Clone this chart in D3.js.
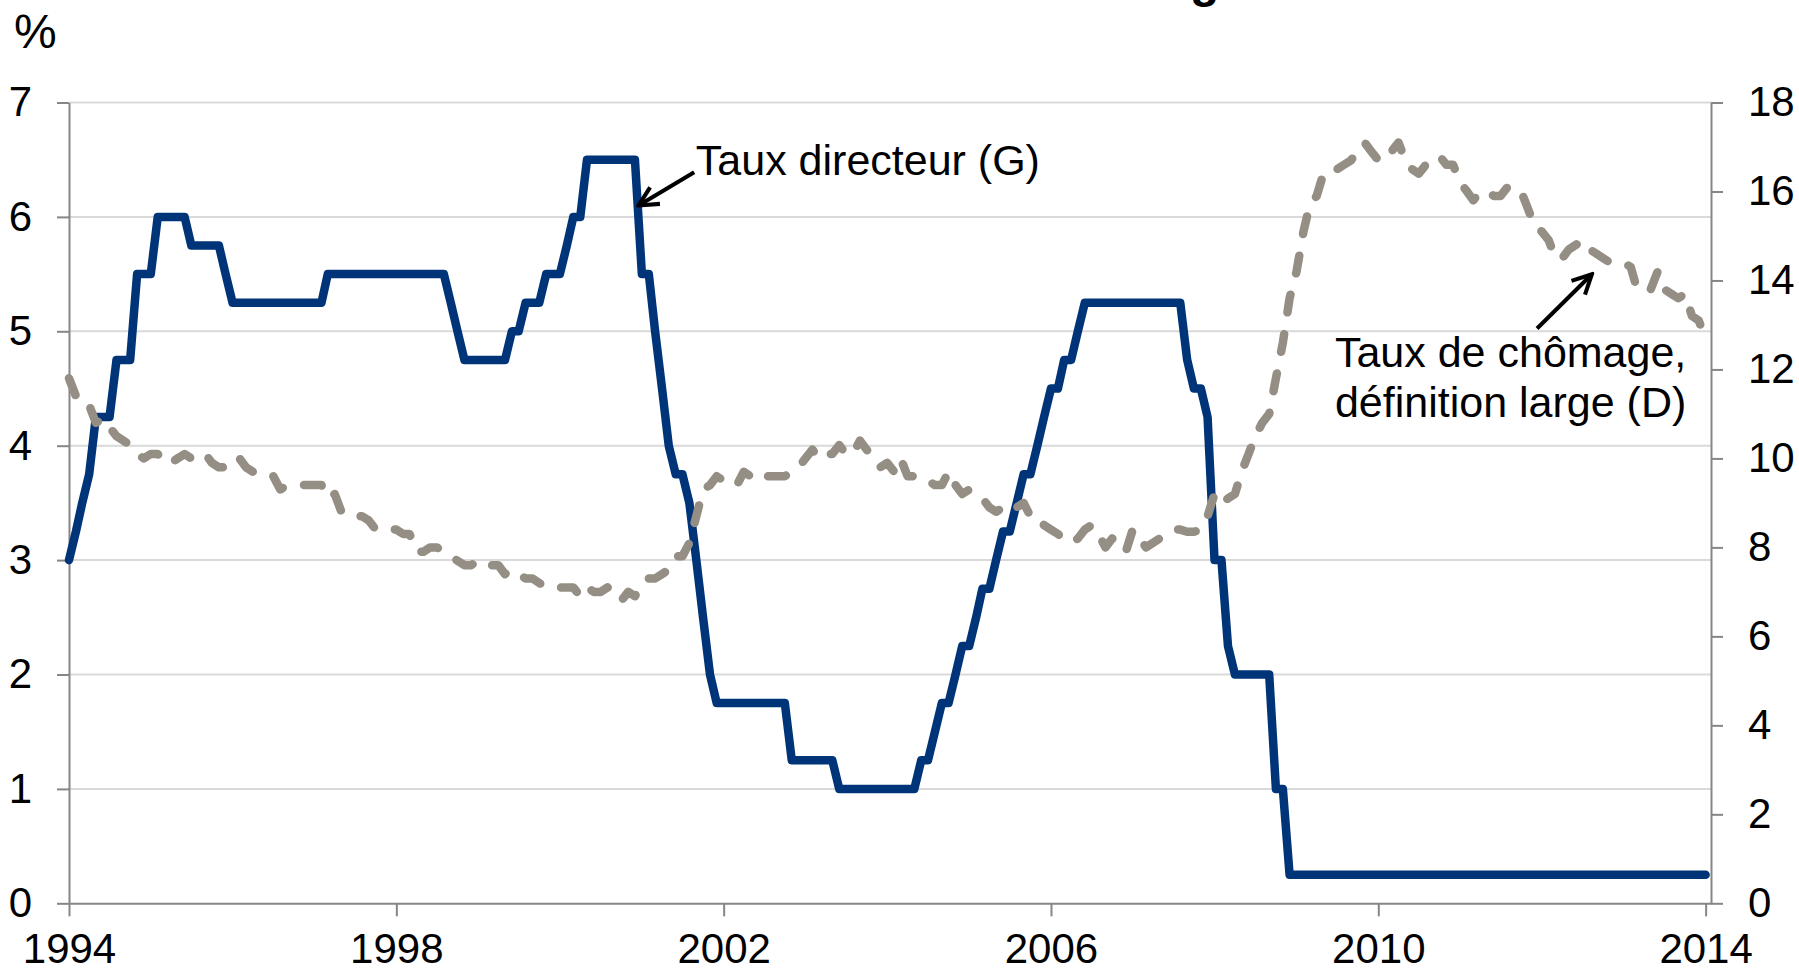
<!DOCTYPE html>
<html>
<head>
<meta charset="utf-8">
<script src="https://cdn.jsdelivr.net/npm/d3@7"></script>
<style>
  body { margin: 0; background: #fff; }
  text { font-family: "Liberation Sans", Arial, sans-serif; fill: #000; }
</style>
</head>
<body>
<div id="wrapper"></div>
<script>
// Monthly data, January 1994 to January 2014 (one value per month).
const startYear = 1994
// Policy rate, % (left axis)
const tauxDirecteur = [
  3.0, 3.25, 3.5, 3.75, 4.25, 4.25, 4.25, 4.75, 4.75, 4.75, 5.5, 5.5,          // 1994
  5.5, 6.0, 6.0, 6.0, 6.0, 6.0, 5.75, 5.75, 5.75, 5.75, 5.75, 5.5,             // 1995
  5.25, 5.25, 5.25, 5.25, 5.25, 5.25, 5.25, 5.25, 5.25, 5.25, 5.25, 5.25,      // 1996
  5.25, 5.25, 5.5, 5.5, 5.5, 5.5, 5.5, 5.5, 5.5, 5.5, 5.5, 5.5,                // 1997
  5.5, 5.5, 5.5, 5.5, 5.5, 5.5, 5.5, 5.5, 5.25, 5.0, 4.75, 4.75,               // 1998
  4.75, 4.75, 4.75, 4.75, 4.75, 5.0, 5.0, 5.25, 5.25, 5.25, 5.5, 5.5,          // 1999
  5.5, 5.75, 6.0, 6.0, 6.5, 6.5, 6.5, 6.5, 6.5, 6.5, 6.5, 6.5,                 // 2000
  5.5, 5.5, 5.0, 4.5, 4.0, 3.75, 3.75, 3.5, 3.0, 2.5, 2.0, 1.75,               // 2001
  1.75, 1.75, 1.75, 1.75, 1.75, 1.75, 1.75, 1.75, 1.75, 1.75, 1.25, 1.25,      // 2002
  1.25, 1.25, 1.25, 1.25, 1.25, 1.0, 1.0, 1.0, 1.0, 1.0, 1.0, 1.0,             // 2003
  1.0, 1.0, 1.0, 1.0, 1.0, 1.25, 1.25, 1.5, 1.75, 1.75, 2.0, 2.25,             // 2004
  2.25, 2.5, 2.75, 2.75, 3.0, 3.25, 3.25, 3.5, 3.75, 3.75, 4.0, 4.25,          // 2005
  4.5, 4.5, 4.75, 4.75, 5.0, 5.25, 5.25, 5.25, 5.25, 5.25, 5.25, 5.25,         // 2006
  5.25, 5.25, 5.25, 5.25, 5.25, 5.25, 5.25, 5.25, 4.75, 4.5, 4.5, 4.25,        // 2007
  3.0, 3.0, 2.25, 2.0, 2.0, 2.0, 2.0, 2.0, 2.0, 1.0, 1.0, 0.25,                // 2008
  0.25, 0.25, 0.25, 0.25, 0.25, 0.25, 0.25, 0.25, 0.25, 0.25, 0.25, 0.25,      // 2009
  0.25, 0.25, 0.25, 0.25, 0.25, 0.25, 0.25, 0.25, 0.25, 0.25, 0.25, 0.25,      // 2010
  0.25, 0.25, 0.25, 0.25, 0.25, 0.25, 0.25, 0.25, 0.25, 0.25, 0.25, 0.25,      // 2011
  0.25, 0.25, 0.25, 0.25, 0.25, 0.25, 0.25, 0.25, 0.25, 0.25, 0.25, 0.25,      // 2012
  0.25, 0.25, 0.25, 0.25, 0.25, 0.25, 0.25, 0.25, 0.25, 0.25, 0.25, 0.25,      // 2013
  0.25                                                                         // 2014
]
// Unemployment rate, broad definition, % (right axis)
const chomageLarge = [
  11.8, 11.4, 11.4, 11.2, 10.8, 10.9, 10.7, 10.5, 10.4, 10.3, 10.1, 10.0,      // 1994
  10.1, 10.1, 9.9, 9.9, 10.0, 10.1, 10.0, 10.0, 10.1, 9.9, 9.8, 9.8,           // 1995
  9.8, 10.0, 9.8, 9.7, 9.7, 9.6, 9.6, 9.3, 9.4, 9.4, 9.4, 9.4,                 // 1996
  9.4, 9.4, 9.1, 9.2, 8.8, 8.8, 8.7, 8.7, 8.6, 8.4, 8.4, 8.4,                  // 1997
  8.4, 8.3, 8.3, 7.9, 7.9, 8.0, 8.0, 7.9, 7.8, 7.7, 7.6, 7.6,                  // 1998
  7.7, 7.7, 7.6, 7.6, 7.4, 7.5, 7.4, 7.3, 7.3, 7.2, 7.1, 7.1,                  // 1999
  7.1, 7.1, 7.1, 6.9, 7.1, 7.0, 7.0, 7.1, 7.0, 6.8, 7.0, 6.9,                  // 2000
  7.2, 7.3, 7.3, 7.4, 7.5, 7.8, 7.8, 8.1, 8.7, 9.3, 9.4, 9.6,                  // 2001
  9.5, 9.5, 9.4, 9.7, 9.6, 9.5, 9.6, 9.6, 9.6, 9.6, 9.7, 9.8,                  // 2002
  10.0, 10.2, 10.0, 10.1, 10.1, 10.3, 10.1, 10.1, 10.4, 10.2, 10.0, 9.8,       // 2003
  9.9, 9.7, 10.0, 9.6, 9.6, 9.5, 9.5, 9.4, 9.4, 9.7, 9.4, 9.2,                 // 2004
  9.3, 9.2, 9.1, 8.9, 8.8, 8.9, 8.8, 8.9, 9.0, 8.7, 8.7, 8.5,                  // 2005
  8.4, 8.3, 8.2, 8.1, 8.2, 8.4, 8.5, 8.3, 8.0, 8.2, 8.1, 7.9,                  // 2006
  8.4, 8.2, 8.0, 8.1, 8.2, 8.3, 8.4, 8.4, 8.35, 8.35, 8.4, 8.7,                // 2007
  9.2, 9.0, 9.1, 9.2, 9.7, 10.1, 10.5, 10.8, 11.0, 11.8, 12.6, 13.6,           // 2008
  14.2, 15.1, 15.7, 15.9, 16.4, 16.5, 16.5, 16.6, 16.7, 16.9, 17.1, 16.9,      // 2009
  16.7, 16.9, 16.9, 17.1, 16.7, 16.5, 16.4, 16.6, 16.7, 16.8, 16.6, 16.6,      // 2010
  16.2, 16.0, 15.8, 16.0, 16.0, 15.9, 15.9, 16.1, 16.1, 16.0, 15.6, 15.2,      // 2011
  15.1, 14.9, 14.5, 14.5, 14.7, 14.8, 14.9, 14.7, 14.6, 14.5, 14.4, 14.4,      // 2012
  14.4, 14.3, 13.8, 13.8, 13.8, 14.2, 13.8, 13.7, 13.6, 13.7, 13.2, 13.1,      // 2013
  12.7                                                                         // 2014
]

const xTickYears = [1994, 1998, 2002, 2006, 2010, 2014]
const leftTicks = [0, 1, 2, 3, 4, 5, 6, 7]
const rightTicks = [0, 2, 4, 6, 8, 10, 12, 14, 16, 18]

const dimensions = {
  width: 1799,
  height: 973,
  left: 69,
  right: 1711,
  top: 102.5,
  bottom: 903.3,
}

const dateOf = i => new Date(startYear, i, 1)

const svg = d3.select("#wrapper")
  .append("svg")
    .attr("width", dimensions.width)
    .attr("height", dimensions.height)

const xScale = d3.scaleTime()
  .domain([new Date(1994, 0, 1), new Date(2014, 0, 25)])
  .range([dimensions.left, dimensions.right])
const yLeft = d3.scaleLinear()
  .domain([0, 7])
  .range([dimensions.bottom, dimensions.top])
const yRight = d3.scaleLinear()
  .domain([0, 18])
  .range([dimensions.bottom, dimensions.top])

// gridlines (left axis)
svg.append("g")
  .selectAll("line")
  .data(leftTicks.filter(d => d > 0))
  .join("line")
    .attr("x1", dimensions.left)
    .attr("x2", dimensions.right)
    .attr("y1", d => yLeft(d))
    .attr("y2", d => yLeft(d))
    .attr("stroke", "#d9d9d9")
    .attr("stroke-width", 2)

function styleAxis(g) {
  g.selectAll("path.domain").attr("stroke", "#868686").attr("stroke-width", 2)
  g.selectAll(".tick line").attr("stroke", "#868686").attr("stroke-width", 2)
  g.selectAll(".tick text")
    .attr("font-size", 42)
    .attr("font-family", "'Liberation Sans', Arial, sans-serif")
    .attr("fill", "#000")
}

svg.append("g")
  .attr("transform", `translate(0,${dimensions.bottom})`)
  .call(d3.axisBottom(xScale)
    .tickValues(xTickYears.map(y => new Date(y, 0, 1)))
    .tickFormat(d3.timeFormat("%Y"))
    .tickSizeInner(13)
    .tickSizeOuter(0)
    .tickPadding(17))
  .call(styleAxis)

svg.append("g")
  .attr("transform", `translate(${dimensions.left},0)`)
  .call(d3.axisLeft(yLeft)
    .tickValues(leftTicks)
    .tickFormat(d3.format("d"))
    .tickSizeInner(12)
    .tickSizeOuter(0)
    .tickPadding(25))
  .call(styleAxis)

svg.append("g")
  .attr("transform", `translate(${dimensions.right},0)`)
  .call(d3.axisRight(yRight)
    .tickValues(rightTicks)
    .tickFormat(d3.format("d"))
    .tickSizeInner(12)
    .tickSizeOuter(0)
    .tickPadding(25))
  .call(styleAxis)

// lines
const rateLine = d3.line()
  .x((d, i) => xScale(dateOf(i)))
  .y(d => yLeft(d))
const unempLine = d3.line()
  .x((d, i) => xScale(dateOf(i)))
  .y(d => yRight(d))

svg.append("path")
  .attr("d", rateLine(tauxDirecteur))
  .attr("fill", "none")
  .attr("stroke", "#003478")
  .attr("stroke-width", 8.5)
  .attr("stroke-linejoin", "round")
  .attr("stroke-linecap", "round")

svg.append("path")
  .attr("d", unempLine(chomageLarge))
  .attr("fill", "none")
  .attr("stroke", "#948e84")
  .attr("stroke-width", 8.5)
  .attr("stroke-dasharray", "18 22")
  .attr("stroke-linejoin", "round")
  .attr("stroke-linecap", "round")

// "%" unit label
svg.append("text")
  .attr("x", 14)
  .attr("y", 48)
  .attr("font-size", 48)
  .text("%")

// bit of the title that shows at the top edge
svg.append("text")
  .attr("x", 1190)
  .attr("y", -3)
  .attr("font-size", 48)
  .attr("font-weight", "bold")
  .text("g")

// annotations
svg.append("defs").append("marker")
    .attr("id", "arrow")
    .attr("viewBox", "0 0 10 10")
    .attr("refX", 9)
    .attr("refY", 5)
    .attr("markerWidth", 6)
    .attr("markerHeight", 6)
    .attr("orient", "auto")
  .append("path")
    .attr("d", "M1,1 L9,5 L1,9")
    .attr("fill", "none")
    .attr("stroke", "#000")
    .attr("stroke-width", 1.7)

const decYear = y => new Date(+new Date(1994, 0, 1) + (y - 1994) * 365.25 * 864e5)

svg.append("line")
  .attr("x1", xScale(decYear(2001.64)))
  .attr("y1", yLeft(6.39))
  .attr("x2", xScale(decYear(2000.96)))
  .attr("y2", yLeft(6.10))
  .attr("stroke", "#000")
  .attr("stroke-width", 4)
  .attr("marker-end", "url(#arrow)")

svg.append("text")
  .attr("x", xScale(decYear(2001.66)))
  .attr("y", yLeft(6.37))
  .attr("font-size", 43)
  .text("Taux directeur (G)")

svg.append("line")
  .attr("x1", xScale(decYear(2011.94)))
  .attr("y1", yRight(12.92))
  .attr("x2", xScale(decYear(2012.61)))
  .attr("y2", yRight(14.14))
  .attr("stroke", "#000")
  .attr("stroke-width", 4)
  .attr("marker-end", "url(#arrow)")

const note = svg.append("text")
  .attr("x", xScale(decYear(2009.47)))
  .attr("y", yRight(12.06))
  .attr("font-size", 43)
note.append("tspan").text("Taux de chômage,")
note.append("tspan")
  .attr("x", xScale(decYear(2009.47)))
  .attr("dy", 50)
  .text("définition large (D)")
</script>
</body>
</html>
